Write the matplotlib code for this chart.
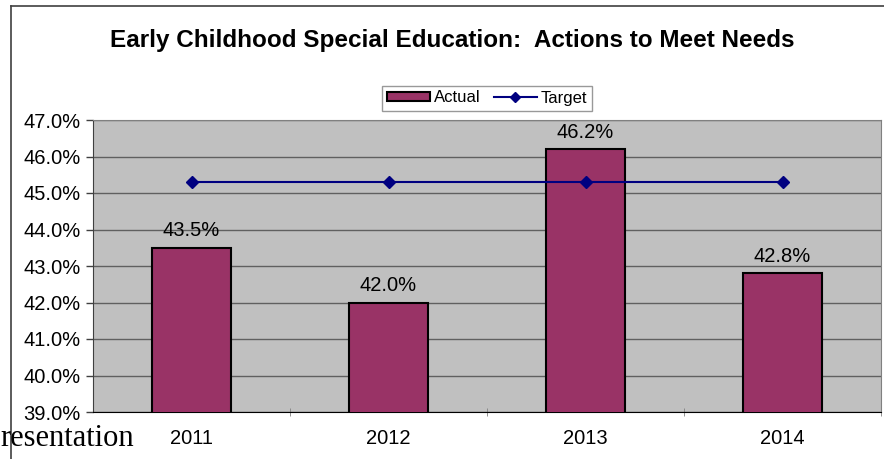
import matplotlib.pyplot as plt
from matplotlib.lines import Line2D
from matplotlib.ticker import FuncFormatter

plt.rcParams['font.family'] = ['Liberation Sans', 'DejaVu Sans']

# Actual vs. target rates by year
years = ['2011', '2012', '2013', '2014']
actual = [43.5, 42.0, 46.2, 42.8]
target = [45.3, 45.3, 45.3, 45.3]

fig = plt.figure(figsize=(8.84, 4.59), dpi=100)
ax = fig.add_axes([93 / 884, 1 - 412 / 459, 788 / 884, 292 / 459])

x = range(len(years))
ax.bar(x, actual, width=0.4, color='#993366', edgecolor='black', linewidth=1.5,
       zorder=3, label='Actual')
ax.plot(x, target, color='#000080', marker='D', markersize=6, linewidth=1.5,
        zorder=4, label='Target')

for xi, v in zip(x, actual):
    ax.text(xi, v + 0.2, f'{v:.1f}%', ha='center', va='bottom', fontsize=14.5, zorder=5)

ax.set_xlim(-0.5, 3.5)
ax.set_ylim(39, 47)
ax.set_yticks([39 + i for i in range(9)])
ax.yaxis.set_major_formatter(FuncFormatter(lambda v, p: f'{v:.1f}%'))
ax.set_facecolor('#C0C0C0')
ax.grid(axis='y', color='#606060', linewidth=1, zorder=1)
ax.set_axisbelow(True)

ax.set_xticks(list(x))
ax.set_xticklabels(years, fontsize=14.5)
ax.tick_params(axis='x', length=0, pad=12)
ax.set_xticks([0.5, 1.5, 2.5, 3.5], minor=True)
ax.tick_params(axis='x', which='minor', length=6, color='#808080', direction='inout')
ax.tick_params(axis='y', labelsize=14.5, length=5, color='#404040', width=1, pad=4)

for side in ['top', 'right']:
    ax.spines[side].set_color('#808080')
ax.spines['left'].set_color('#404040')
ax.spines['bottom'].set_color('black')

# title and legend above plot area
fig.text(452 / 884, 1 - 40 / 459, 'Early Childhood Special Education:  Actions to Meet Needs',
         ha='center', va='center', fontsize=17.5, fontweight='bold')

handles = [plt.Rectangle((0, 0), 1, 1, facecolor='#993366', edgecolor='black', linewidth=1.5),
           Line2D([0], [0], color='#000080', marker='D', markersize=5, linewidth=1.5)]
leg = fig.legend(handles, ['Actual', 'Target'], loc='center', ncol=2,
                 bbox_to_anchor=(487 / 884, 1 - 98 / 459), fontsize=12, frameon=True,
                 fancybox=False, edgecolor='#808080', handlelength=2.6, handleheight=0.5,
                 columnspacing=0.8, handletextpad=0.2, borderpad=0.3)
leg.get_frame().set_linewidth(1)

# chart frame edges
fig.add_artist(Line2D([11 / 884, 11 / 884], [0, 1 - 6 / 459], color='#404040', linewidth=1.2))
fig.add_artist(Line2D([11 / 884, 1], [1 - 6 / 459, 1 - 6 / 459], color='#404040', linewidth=1.2))

fig.text(0, 1 - 438 / 459, 'resentation', ha='left', va='center', fontsize=22,
         family=['Liberation Serif', 'DejaVu Serif'])

fig.savefig('out.png', dpi=100)
